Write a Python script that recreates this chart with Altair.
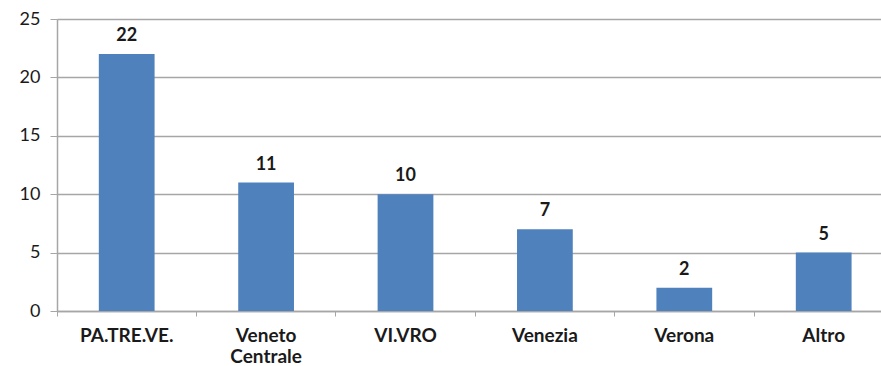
import altair as alt
import pandas as pd

# Number of entries per group
categories = ["PA.TRE.VE.", "Veneto Centrale", "VI.VRO", "Venezia", "Verona", "Altro"]
values = [22, 11, 10, 7, 2, 5]

df = pd.DataFrame({"gruppo": categories, "n": values})

FONT = "Lato"
TEXT = "#1a1a1a"
GRID = "#a6a6a6"
BAND = 139.4

x = alt.X(
    "gruppo:N",
    sort=categories,
    scale=alt.Scale(range=[0, BAND * len(categories)], paddingInner=0, paddingOuter=0),
    axis=alt.Axis(
        title=None,
        labelAngle=0,
        labelFont=FONT,
        labelFontWeight="bold",
        labelFontSize=19,
        labelColor=TEXT,
        labelPadding=10,
        labelLineHeight=21,
        labelExpr="split(datum.label, ' ')",
        bandPosition=0,
        tickColor=GRID,
        tickSize=5,
        domainColor=GRID,
        domainWidth=1.5,
        labelOverlap=False,
    ),
)
y = alt.Y(
    "n:Q",
    scale=alt.Scale(domain=[0, 25], nice=False),
    axis=alt.Axis(
        title=None,
        values=[0, 5, 10, 15, 20, 25],
        labelFont=FONT,
        labelFontSize=18,
        labelColor=TEXT,
        labelPadding=10,
        tickColor=GRID,
        tickSize=7,
        domainColor=GRID,
        domainWidth=1.5,
        gridColor=GRID,
        gridWidth=1.5,
    ),
)

bars = alt.Chart(df).mark_bar(color="#4f81bd", width=alt.RelativeBandSize(0.4)).encode(x=x, y=y)
labels = alt.Chart(df).mark_text(
    font=FONT, fontWeight="bold", fontSize=18, color=TEXT, baseline="alphabetic", dy=-13
).encode(x=x, y=y, text="n:Q")

chart = (
    alt.layer(bars, labels)
    .properties(
        width=824,
        height=292,
        autosize=alt.AutoSizeParams(type="none"),
        padding={"left": 57, "top": 19, "right": 0, "bottom": 55},
    )
    .configure_view(stroke=None)
    .configure(background="white")
)

chart.save("out.html", embed_options={"renderer": "svg", "actions": False})
